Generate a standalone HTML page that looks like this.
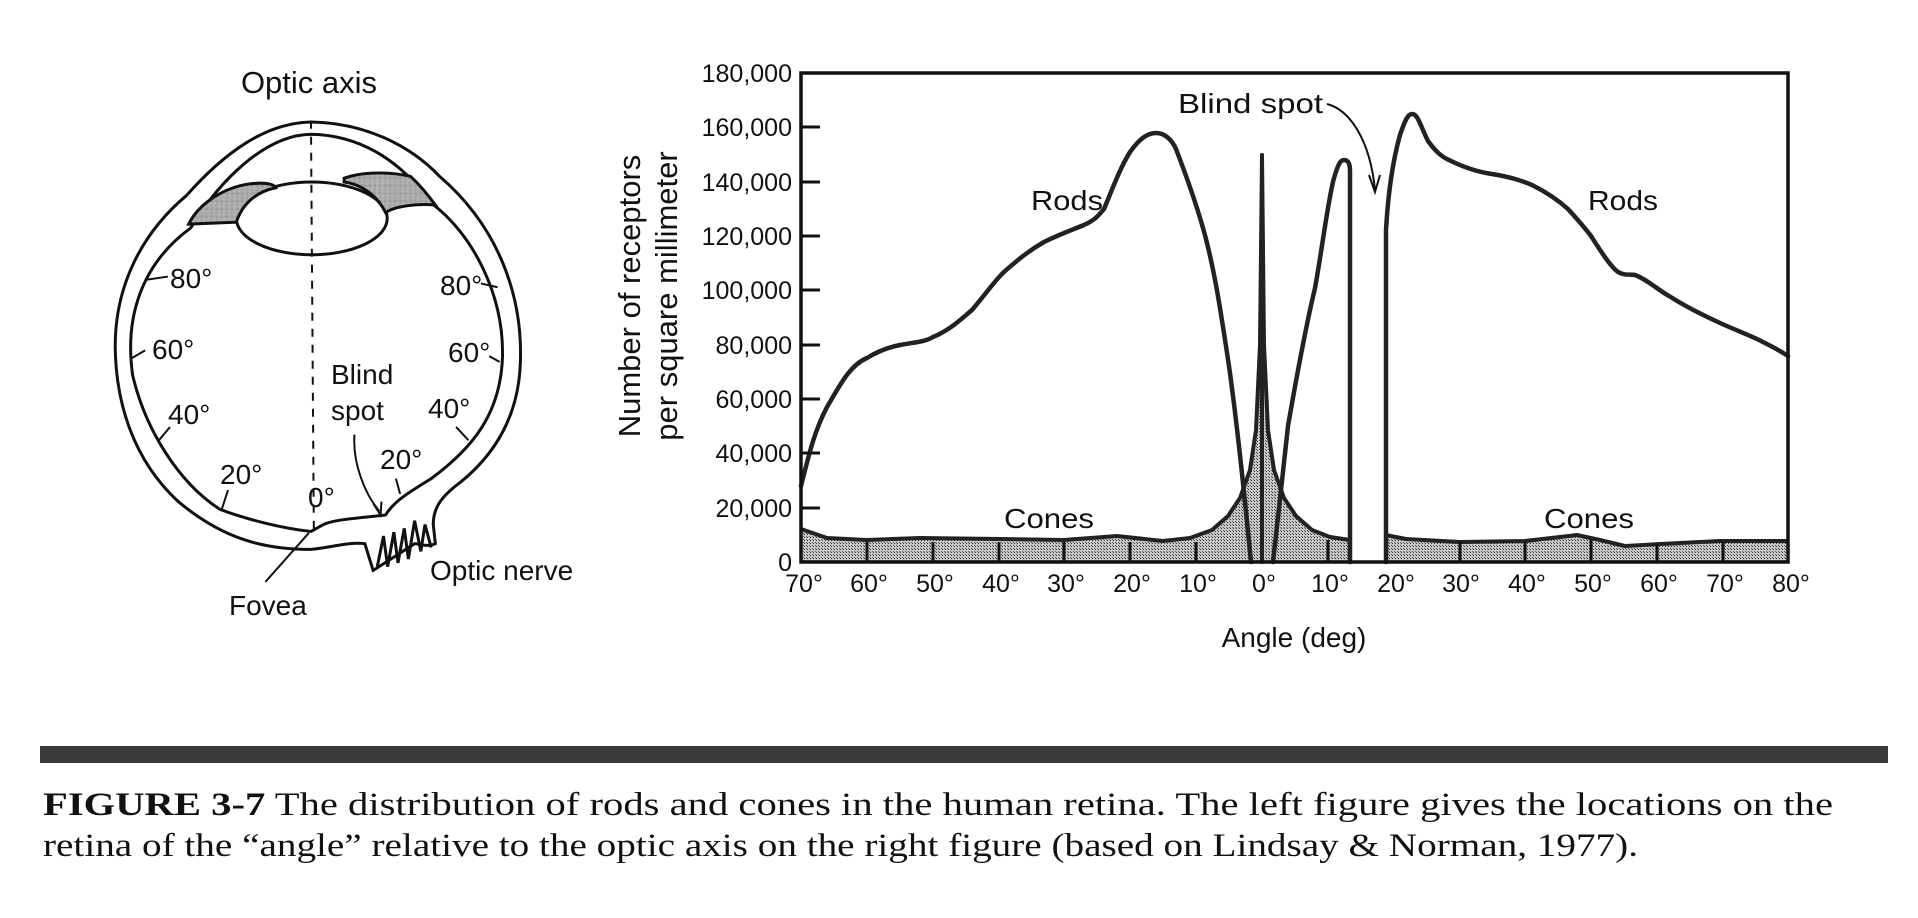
<!DOCTYPE html>
<html><head><meta charset="utf-8"><style>
html,body{margin:0;padding:0;background:#fff;}
svg{display:block;}
.t{font-family:"Liberation Sans",sans-serif;fill:#111;}
.c{font-family:"Liberation Serif",serif;fill:#111;}
</style></head><body>
<svg width="1918" height="918" viewBox="0 0 1918 918" xmlns="http://www.w3.org/2000/svg">
<defs>
<pattern id="dots" width="3" height="3" patternUnits="userSpaceOnUse">
<rect width="3" height="3" fill="#c8c8c8"/><rect width="1" height="1" fill="#333"/><rect x="2" y="2" width="1" height="1" fill="#555"/>
</pattern>
</defs>

<!-- ===== EYE DIAGRAM ===== -->
<g transform="translate(0,50) scale(0.4146,0.3827)" fill="none" stroke="#111" stroke-width="3">
<path vector-effect="non-scaling-stroke" d="M750 188 C880 190 990 250 1060 330 C1200 460 1262 640 1255 820 C1250 960 1190 1060 1110 1130 C1060 1170 1045 1200 1045 1240 L1050 1290 C1030 1300 1010 1290 1000 1290 L900 1360 L880 1290 C840 1285 800 1300 750 1305 C640 1305 540 1280 430 1180 C320 1070 280 920 278 780 C276 620 340 480 450 380 C540 270 640 190 750 188 Z"/>
<path vector-effect="non-scaling-stroke" d="M750 220 C860 222 960 280 1040 400 C1140 480 1215 640 1212 800 C1208 950 1140 1040 1040 1120 C980 1160 950 1180 930 1215 C880 1222 810 1225 780 1240 L750 1258 C680 1250 590 1225 530 1200 C430 1130 350 990 320 850 C300 700 340 560 460 465 C530 340 640 222 750 220 Z"/>
<ellipse vector-effect="non-scaling-stroke" cx="752" cy="440" rx="182" ry="95" fill="#fff"/>
<path vector-effect="non-scaling-stroke" d="M455 455 C480 400 540 360 600 350 C640 345 660 350 665 360 C620 370 585 400 570 450 Z" fill="url(#dots)"/>
<path vector-effect="non-scaling-stroke" d="M830 335 C880 315 950 320 990 330 C1020 360 1040 390 1050 405 C1000 400 950 410 930 425 C910 380 870 350 830 345 Z" fill="url(#dots)"/>
<line vector-effect="non-scaling-stroke" x1="750" y1="185" x2="757" y2="1260" stroke-dasharray="8,8" stroke-width="2"/>
<path vector-effect="non-scaling-stroke" stroke-width="2" d="M355 600 L405 592 M318 805 L350 785 M383 1020 L410 985 M535 1200 L550 1150 M1130 1020 L1100 985 M1205 815 L1180 800 M1200 620 L1160 610 M965 1160 L955 1120"/>
<path vector-effect="non-scaling-stroke" stroke-width="2" d="M855 1005 C850 1080 880 1160 915 1205"/>
<path vector-effect="non-scaling-stroke" d="M900 1185 L918 1215 L920 1180" stroke-width="2"/>
<path vector-effect="non-scaling-stroke" stroke-width="2" d="M640 1390 L745 1262"/>
<path vector-effect="non-scaling-stroke" stroke-width="3" d="M910 1350 L925 1270 L935 1350 L950 1260 L960 1340 L975 1250 L985 1330 L1000 1230 L1015 1310 L1025 1240 L1040 1300"/>
</g>
<g class="t" font-size="28">
<text x="309" y="93" text-anchor="middle" font-size="31">Optic axis</text>
<text x="170" y="288">80°</text>
<text x="152" y="359">60°</text>
<text x="168" y="424">40°</text>
<text x="220" y="484">20°</text>
<text x="308" y="507">0°</text>
<text x="380" y="469">20°</text>
<text x="428" y="418">40°</text>
<text x="448" y="362">60°</text>
<text x="440" y="295">80°</text>
<text x="331" y="384">Blind</text>
<text x="331" y="420">spot</text>
<text x="430" y="580">Optic nerve</text>
<text x="229" y="615">Fovea</text>
</g>

<!-- ===== CHART ===== -->
<path d="M801 529 L827 538 L867 540 L920 538 L1000 539 L1064 540 L1117 536 L1163 541 L1190 538 L1212 530 L1228 516 L1240 498 L1250 470 L1256 430 L1260 345 L1262 155 L1264 345 L1268 430 L1274 470 L1284 498 L1296 516 L1312 530 L1330 537 L1350 540 L1350 562 L801 562 Z" fill="url(#dots)" stroke="none"/>
<path d="M1386 535 L1406 539 L1460 542 L1525 541 L1560 537 L1577 535 L1600 540 L1625 546 L1660 544 L1720 541 L1788 541 L1788 562 L1386 562 Z" fill="url(#dots)" stroke="none"/>
<g fill="none" stroke="#222" stroke-width="4" stroke-linejoin="round">
<path d="M801 529 L827 538 L867 540 L920 538 L1000 539 L1064 540 L1117 536 L1163 541 L1190 538 L1212 530 L1228 516 L1240 498 L1250 470 L1256 430 L1260 345 L1262 155 L1264 345 L1268 430 L1274 470 L1284 498 L1296 516 L1312 530 L1330 537 L1350 540"/>
<path d="M1386 535 L1406 539 L1460 542 L1525 541 L1560 537 L1577 535 L1600 540 L1625 546 L1660 544 L1720 541 L1788 541"/>
</g>
<g stroke="#111" stroke-width="3">
<line x1="867" y1="562" x2="867" y2="542"/><line x1="933" y1="562" x2="933" y2="542"/><line x1="999" y1="562" x2="999" y2="542"/><line x1="1064" y1="562" x2="1064" y2="542"/><line x1="1130" y1="562" x2="1130" y2="542"/><line x1="1196" y1="562" x2="1196" y2="542"/><line x1="1328" y1="562" x2="1328" y2="540"/><line x1="1460" y1="562" x2="1460" y2="542"/><line x1="1525" y1="562" x2="1525" y2="542"/><line x1="1591" y1="562" x2="1591" y2="540"/><line x1="1657" y1="562" x2="1657" y2="544"/><line x1="1723" y1="562" x2="1723" y2="542"/>
</g>
<g fill="none" stroke="#222" stroke-width="4.5" stroke-linejoin="round" stroke-linecap="round">
<path d="M801 486 C810 450 815 430 827 407 C840 385 850 365 867 358 C880 350 890 347 900 345 C915 342 925 342 933 337 C950 330 960 320 972 310 C985 295 995 280 1005 271 C1020 258 1030 250 1044 242 C1060 234 1072 230 1084 225 C1095 220 1098 216 1104 209 C1112 190 1120 168 1130 152 C1140 138 1148 133 1156 133 C1165 133 1172 140 1176 149 C1186 175 1195 200 1203 228 C1215 270 1222 320 1229 366 C1238 430 1245 500 1251 562"/>
<path d="M1262 562 L1262 155" stroke-width="4"/>
<path d="M1273 562 C1278 520 1283 470 1288 426 C1296 380 1305 330 1315 288 C1322 250 1328 200 1334 178 C1338 165 1340 160 1344 160 C1349 160 1350 165 1350 172 L1350 562"/>
<path d="M1386 562 L1386 230 C1388 195 1393 160 1400 135 C1405 120 1408 114 1412 114 C1418 114 1420 125 1428 141 C1436 152 1442 157 1449 160 C1465 168 1478 172 1492 174 C1510 177 1520 180 1532 185 C1548 193 1558 200 1568 209 C1578 220 1585 228 1591 236 C1600 250 1610 266 1618 272 C1625 276 1630 274 1635 275 C1648 280 1658 290 1669 296 C1688 308 1705 316 1720 323 C1740 332 1752 336 1763 342 C1775 348 1782 352 1788 356"/>
</g>
<path d="M801 73 L1788 73 L1788 562 L801 562 Z" fill="none" stroke="#111" stroke-width="3.5"/>
<g stroke="#111" stroke-width="3">
<line x1="801" y1="127" x2="820" y2="127"/><line x1="801" y1="182" x2="820" y2="182"/><line x1="801" y1="236" x2="820" y2="236"/><line x1="801" y1="290" x2="820" y2="290"/><line x1="801" y1="345" x2="820" y2="345"/><line x1="801" y1="399" x2="820" y2="399"/><line x1="801" y1="453" x2="820" y2="453"/><line x1="801" y1="508" x2="820" y2="508"/>
</g>
<path d="M1327 104 C1350 110 1370 140 1375 190" fill="none" stroke="#111" stroke-width="2"/>
<path d="M1369 175 L1375 192 L1380 175" fill="none" stroke="#111" stroke-width="2"/>
<g class="t" font-size="25" text-anchor="end">
<text x="792" y="82">180,000</text>
<text x="792" y="136">160,000</text>
<text x="792" y="191">140,000</text>
<text x="792" y="245">120,000</text>
<text x="792" y="299">100,000</text>
<text x="792" y="354">80,000</text>
<text x="792" y="408">60,000</text>
<text x="792" y="462">40,000</text>
<text x="792" y="517">20,000</text>
<text x="792" y="571">0</text>
</g>
<g class="t" font-size="31">
<text transform="translate(640,296) rotate(-90)" text-anchor="middle">Number of receptors</text>
<text transform="translate(677,296) rotate(-90)" text-anchor="middle">per square millimeter</text>
</g>
<g class="t" font-size="25" text-anchor="middle">
<text x="804" y="592">70°</text><text x="869" y="592">60°</text><text x="935" y="592">50°</text><text x="1001" y="592">40°</text><text x="1066" y="592">30°</text><text x="1132" y="592">20°</text><text x="1198" y="592">10°</text><text x="1264" y="592">0°</text><text x="1330" y="592">10°</text><text x="1396" y="592">20°</text><text x="1461" y="592">30°</text><text x="1527" y="592">40°</text><text x="1593" y="592">50°</text><text x="1659" y="592">60°</text><text x="1725" y="592">70°</text><text x="1791" y="592">80°</text>
</g>
<g class="t" font-size="28">
<text x="1294" y="647" text-anchor="middle">Angle (deg)</text>
<text x="1178" y="113" textLength="145" lengthAdjust="spacingAndGlyphs">Blind spot</text>
<text x="1031" y="210" textLength="72" lengthAdjust="spacingAndGlyphs">Rods</text>
<text x="1588" y="210" textLength="70" lengthAdjust="spacingAndGlyphs">Rods</text>
<text x="1004" y="528" textLength="90" lengthAdjust="spacingAndGlyphs">Cones</text>
<text x="1544" y="528" textLength="90" lengthAdjust="spacingAndGlyphs">Cones</text>
</g>

<!-- ===== CAPTION ===== -->
<rect x="40" y="746" width="1848" height="17" fill="#3a3a3a"/>
<g class="c" font-size="33">
<text x="43" y="815" textLength="1790" lengthAdjust="spacingAndGlyphs"><tspan font-weight="bold">FIGURE 3-7</tspan>   The distribution of rods and cones in the human retina. The left figure gives the locations on the</text>
<text x="43" y="856" textLength="1595" lengthAdjust="spacingAndGlyphs">retina of the “angle” relative to the optic axis on the right figure (based on Lindsay &amp; Norman, 1977).</text>
</g>
</svg>
</body></html>
